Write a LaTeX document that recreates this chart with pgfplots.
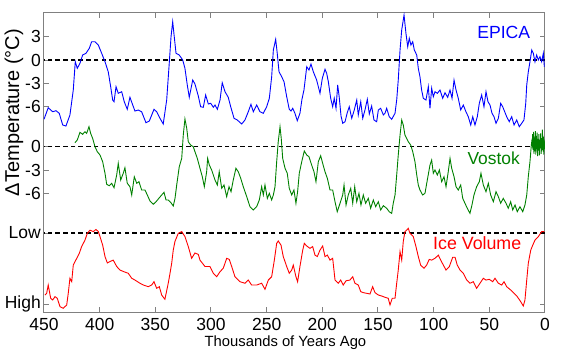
\documentclass[border=0pt]{standalone}
\usepackage{pgfplots}
\pgfplotsset{compat=1.18}
\usepackage{pgfplotstable}
\usepackage{fontspec}
\setmainfont{Liberation Sans}

\definecolor{epica}{RGB}{0,0,255}
\definecolor{vostok}{RGB}{0,128,0}
\definecolor{icev}{RGB}{255,0,0}
\definecolor{axgray}{RGB}{128,128,128}

% EPICA: age (kyr), temperature anomaly (C)
\pgfplotstableread{
x y
450.0 -7.59
446.2 -6.11
442.2 -6.62
439.2 -6.49
436.3 -6.82
433.2 -8.32
430.3 -8.45
426.7 -7.04
423.7 -3.84
421.9 -0.22
420.1 -1.06
417.7 -0.42
415.3 0.64
412.3 0.86
409.3 1.50
407.2 2.34
404.2 2.34
401.2 1.92
398.2 0.86
395.2 -0.22
392.3 -1.50
390.1 -3.42
388.3 -5.12
387.1 -5.34
385.3 -3.42
383.3 -4.26
380.2 -4.06
377.9 -5.34
375.2 -6.31
372.8 -4.77
370.3 -5.76
368.3 -6.53
365.3 -6.40
362.3 -6.62
358.4 -8.03
355.4 -7.81
351.2 -6.31
348.8 -6.62
345.8 -7.46
342.9 -8.19
339.8 -5.12
337.5 -0.42
335.9 2.98
334.4 4.90
333.0 2.98
331.4 0.86
328.5 0.64
325.4 0.00
323.4 -1.06
321.3 -3.20
319.5 -4.77
316.4 -2.56
314.4 -3.07
311.4 -4.61
309.3 -5.98
306.9 -6.05
304.8 -4.48
302.4 -5.63
300.3 -5.54
297.9 -6.05
296.4 -5.76
294.3 -6.31
291.9 -5.12
289.9 -2.91
287.4 -4.06
284.5 -4.77
282.3 -5.98
279.3 -7.46
276.4 -7.68
272.4 -8.19
269.5 -7.68
266.5 -6.62
264.1 -5.67
262.0 -6.62
259.0 -5.76
256.0 -6.62
253.0 -6.82
250.0 -5.98
247.6 -4.90
245.5 -2.14
244.0 1.28
241.9 2.65
240.5 0.86
238.9 -1.50
236.5 -2.14
234.4 -2.78
232.0 -4.70
229.7 -6.31
228.1 -6.53
226.6 -6.18
224.6 -6.82
222.5 -7.77
220.1 -6.82
218.3 -5.03
216.5 -3.84
214.0 -0.86
212.0 -1.28
210.2 -0.51
208.1 -1.50
205.1 -2.56
202.1 -4.26
200.0 -2.34
197.6 -1.19
196.1 -1.70
194.6 -2.78
192.5 -4.90
190.7 -5.98
189.3 -4.90
187.7 -6.18
186.2 -3.20
184.8 -4.77
183.2 -7.17
181.7 -8.10
179.6 -7.90
177.6 -6.75
175.8 -5.98
173.6 -7.46
171.3 -6.40
169.1 -5.12
167.7 -7.04
165.5 -5.34
163.7 -7.46
161.7 -6.40
159.6 -5.03
157.8 -6.91
155.7 -5.89
153.6 -7.68
151.2 -7.90
149.7 -6.40
147.6 -6.18
145.2 -7.04
143.7 -6.82
142.2 -6.18
139.9 -7.26
137.7 -7.59
134.7 -6.82
133.2 -5.12
131.8 -2.56
130.2 1.28
128.7 3.84
126.6 5.76
124.9 3.42
123.3 1.70
121.9 2.78
120.4 1.92
118.8 2.34
117.4 1.28
115.2 0.64
113.8 -1.06
112.3 -2.14
110.8 -3.84
109.3 -4.90
106.9 -5.12
104.8 -3.42
103.3 -6.18
101.8 -3.62
100.3 -4.70
98.8 -4.06
96.7 -4.26
94.3 -3.84
91.9 -4.90
89.8 -4.19
87.4 -4.77
85.3 -3.84
83.5 -4.90
81.7 -2.56
79.9 -3.84
77.9 -4.90
75.7 -6.40
73.4 -5.76
71.0 -6.62
68.9 -7.26
66.7 -8.32
64.9 -7.26
62.9 -8.32
60.8 -7.26
59.0 -5.54
56.9 -4.48
54.8 -5.98
53.0 -4.06
51.2 -5.34
49.4 -5.76
47.6 -6.82
45.8 -7.26
44.0 -8.10
41.9 -7.46
39.8 -5.54
38.0 -5.98
36.2 -6.62
34.4 -7.26
32.1 -7.90
29.9 -7.26
27.8 -8.32
25.4 -7.68
23.1 -8.54
20.9 -8.10
18.9 -7.68
17.3 -5.54
16.4 -3.20
15.0 -1.50
13.5 -0.22
11.9 1.28
10.5 0.86
9.0 -0.22
7.5 0.64
6.0 0.00
4.5 0.42
3.0 -0.22
1.5 0.86
0.6 -0.86
}\epica

% Vostok: age (kyr), temperature anomaly (C)
\pgfplotstableread{
x y
422.2 0.51
420.1 0.86
417.7 1.84
415.3 1.59
413.2 1.92
411.7 1.71
409.6 2.56
408.1 1.71
406.3 1.07
404.2 0.00
402.1 -0.64
399.7 -1.06
397.3 -1.92
395.2 -3.40
393.7 -4.81
391.4 -4.99
389.2 -4.68
387.1 -5.25
384.7 -3.62
383.3 -2.12
381.1 -4.26
378.8 -3.40
377.3 -2.69
375.2 -4.68
372.8 -5.12
371.2 -6.18
368.9 -3.84
366.7 -4.68
364.7 -4.48
362.3 -5.54
359.3 -5.54
357.2 -6.18
354.8 -6.95
351.8 -7.37
348.8 -6.95
346.4 -6.53
344.3 -6.18
342.2 -5.84
340.4 -6.82
338.4 -6.82
336.2 -7.12
333.9 -7.59
332.3 -6.61
330.8 -4.90
328.5 -2.56
326.3 -1.49
324.9 1.50
323.4 3.55
321.8 2.36
320.4 0.64
318.3 0.22
315.9 0.00
314.4 -0.64
312.3 -1.49
309.9 -2.76
307.8 -3.84
306.0 -5.12
303.9 -3.20
303.0 -1.49
301.5 -2.34
299.4 -2.98
296.4 -4.26
294.3 -4.90
292.6 -3.20
290.4 -5.32
288.3 -4.90
285.9 -6.40
283.8 -5.12
282.0 -5.76
280.0 -4.26
277.6 -2.76
275.5 -3.20
273.3 -4.04
271.0 -5.12
267.9 -6.40
265.0 -7.68
262.0 -8.10
259.0 -7.68
256.6 -6.82
254.5 -5.12
253.0 -6.18
251.5 -4.90
249.4 -6.61
247.6 -5.97
245.5 -6.82
244.0 -6.18
242.5 -5.12
241.0 -1.92
239.6 0.64
238.0 2.56
236.9 1.07
235.6 -1.49
233.5 -2.76
231.5 -3.40
229.7 -5.32
227.5 -6.18
225.5 -5.54
223.7 -7.24
222.2 -5.76
220.7 -3.40
218.5 -1.92
216.2 -0.55
214.0 -1.06
212.0 -1.28
209.6 -2.34
207.5 -3.20
205.7 -4.48
203.6 -1.92
201.5 -1.15
199.7 -2.12
197.6 -3.20
195.5 -4.04
193.1 -5.54
190.7 -5.54
188.6 -7.04
186.6 -8.32
184.1 -7.24
181.7 -6.18
180.5 -4.90
178.7 -7.46
176.7 -6.18
174.5 -5.32
172.7 -7.24
170.9 -5.12
169.1 -7.04
167.1 -5.97
165.3 -7.46
163.2 -6.18
161.1 -7.24
158.7 -6.61
156.6 -7.88
154.2 -6.82
152.1 -7.68
149.7 -7.04
147.6 -8.10
145.2 -7.55
142.2 -7.88
139.9 -8.32
137.7 -8.53
136.3 -7.24
134.7 -6.18
133.2 -3.62
131.8 -1.06
130.2 1.50
128.7 3.42
127.3 2.78
125.8 1.50
124.3 1.07
122.8 0.64
120.6 0.22
118.8 -0.64
116.8 -1.92
115.2 -3.62
113.8 -4.90
112.3 -5.54
109.9 -6.18
107.8 -5.97
105.7 -4.26
103.3 -2.34
101.8 -1.70
100.3 -3.40
98.8 -2.98
96.7 -3.62
94.9 -2.98
92.8 -4.48
90.7 -3.84
88.9 -5.12
86.9 -3.20
85.3 -1.49
83.8 -2.76
81.7 -3.84
79.9 -5.12
77.9 -5.54
75.7 -4.90
73.9 -6.61
71.9 -7.24
69.8 -7.88
67.4 -8.53
65.6 -7.46
63.8 -6.18
61.4 -5.12
59.0 -4.48
57.5 -3.40
55.4 -4.90
53.0 -5.76
50.9 -4.68
48.8 -6.18
46.4 -7.04
44.0 -5.76
41.9 -6.40
39.8 -7.24
37.5 -6.61
35.0 -7.24
33.0 -7.88
30.8 -7.04
29.0 -8.10
26.9 -7.46
24.9 -8.32
22.5 -7.68
20.0 -8.32
18.0 -7.46
16.4 -6.18
15.0 -3.84
13.5 -1.92
12.3 0.20
11.9 0.64
11.5 0.30
11.1 1.60
10.7 -0.40
10.3 1.90
9.9 -0.90
9.5 1.20
9.1 -0.60
8.7 2.00
8.3 -1.00
7.9 1.40
7.5 -0.30
7.1 1.80
6.7 -1.20
6.3 1.00
5.9 -0.50
5.5 1.60
5.1 -1.10
4.7 0.90
4.3 -0.20
3.9 1.70
3.5 -0.90
3.1 1.10
2.7 -0.60
2.3 2.20
1.9 -0.40
1.5 1.30
1.1 -1.00
0.7 0.90
0.3 -0.30
}\vostok

% Ice volume: age (kyr), relative volume (0 = High, 1 = Low)
\pgfplotstableread{
x v
449.1 0.13
447.6 0.154
446.2 0.27
444.0 0.084
442.2 0.06
440.1 0.107
438.1 0.084
435.6 -0.034
432.7 -0.056
429.6 -0.01
428.2 0.154
426.7 0.365
425.1 0.317
423.7 0.55
420.6 0.645
418.3 0.715
416.2 0.81
413.2 0.90
411.1 0.996
408.7 1.04
405.7 1.02
403.3 1.05
401.2 1.02
399.7 0.95
397.3 0.83
395.2 0.67
393.1 0.58
390.7 0.60
387.8 0.62
384.7 0.53
381.7 0.48
378.2 0.457
374.3 0.435
371.2 0.365
368.3 0.34
363.8 0.295
360.8 0.27
356.3 0.247
353.3 0.27
351.2 0.317
348.8 0.224
346.4 0.247
344.3 0.13
341.4 0.07
338.4 0.295
336.8 0.435
335.3 0.575
333.9 0.76
332.4 0.88
329.4 0.996
326.3 1.02
323.4 0.95
320.4 0.81
317.4 0.645
314.4 0.72
311.4 0.70
309.9 0.62
305.4 0.53
300.9 0.53
297.9 0.435
294.9 0.387
291.9 0.457
289.0 0.505
285.9 0.645
283.6 0.63
281.4 0.53
278.5 0.387
274.0 0.317
269.5 0.295
266.5 0.34
263.5 0.27
259.0 0.27
254.5 0.295
251.5 0.21
248.5 0.34
245.5 0.387
243.1 0.62
241.0 0.855
239.6 0.888
237.1 0.83
235.1 0.67
232.0 0.53
229.7 0.435
227.5 0.48
226.1 0.55
223.7 0.387
222.2 0.317
220.1 0.53
217.6 0.76
216.2 0.855
214.0 0.818
211.1 0.785
208.7 0.81
206.6 0.69
204.5 0.67
202.1 0.76
199.7 0.818
197.6 0.67
195.5 0.69
193.1 0.62
190.7 0.645
188.6 0.34
185.7 0.295
183.5 0.34
181.2 0.27
178.7 0.33
175.2 0.34
172.7 0.387
170.7 0.295
167.7 0.27
165.5 0.177
163.2 0.163
160.2 0.154
157.2 0.144
154.8 0.247
152.7 0.163
149.7 0.13
146.7 0.116
143.7 0.098
140.8 0.084
139.2 -0.01
137.2 0.084
134.7 0.084
133.2 0.295
131.8 0.48
130.2 0.74
128.7 0.62
127.3 0.88
125.8 1.02
124.3 1.04
122.8 1.066
121.3 0.996
118.3 0.95
115.9 0.81
113.8 0.67
111.7 0.55
108.7 0.505
106.3 0.55
104.0 0.63
101.8 0.62
98.8 0.645
95.8 0.69
93.7 0.62
91.3 0.55
88.9 0.48
85.9 0.53
82.9 0.66
80.8 0.66
78.8 0.55
76.3 0.48
73.4 0.435
70.3 0.34
67.4 0.295
64.4 0.317
61.4 0.224
58.4 0.295
55.4 0.365
53.0 0.34
50.0 0.35
47.0 0.317
44.9 0.365
41.9 0.295
38.9 0.27
36.8 0.317
34.4 0.247
30.8 0.20
27.8 0.154
24.9 0.107
21.8 0.036
19.5 -0.024
18.0 0.06
16.4 0.34
15.0 0.575
12.8 0.76
11.0 0.83
9.0 0.90
6.0 0.95
3.0 1.02
0.6 1.02
}\icevol

\begin{document}
\begin{tikzpicture}
\begin{axis}[
  at={(0pt,0pt)}, anchor=south west,
  width=501pt, height=299pt, scale only axis,
  x dir=reverse,
  xmin=0, xmax=450, ymin=-32.26, ymax=6.02,
  xtick={0,50,...,450},
  ytick={-31.27,-22.15,-17.1,-14.1,-11.1,-6,-3,0,3},
  yticklabels={High,Low,-6,-3,0,-6,-3,0,3},
  tick align=inside,
  major tick length=5pt,
  tick style={axgray, line width=1pt},
  axis line style={axgray, line width=1pt},
  ticklabel style={font=\fontsize{17.5}{18}\selectfont, black},
  yticklabel style={inner xsep=3pt},
  xticklabel style={yshift=-2.5pt},
  /pgf/number format/assume math mode=true,
  xlabel={Thousands of Years Ago},
  xlabel style={font=\fontsize{14.8}{16}\selectfont, at={(axis description cs:0.482,0)}, anchor=center, yshift=-31pt},
  ylabel={ΔTemperature (°C)},
  ylabel style={font=\fontsize{20}{22}\selectfont, at={(axis description cs:-0.06,0.667)}, anchor=center},
  clip=true,
]
\addplot[black, line width=1.3pt, dash pattern=on 4.5pt off 3.2pt] coordinates {(0,0) (450,0)};
\addplot[black, line width=1.3pt, dash pattern=on 4.5pt off 3.2pt] coordinates {(0,-11.1) (450,-11.1)};
\addplot[black, line width=1.3pt, dash pattern=on 4.5pt off 3.2pt] coordinates {(0,-22.15) (450,-22.15)};

\addplot[epica, line width=0.9pt] table[x=x, y=y] {\epica};
\addplot[vostok, line width=0.9pt] table[x=x, y expr=\thisrow{y}-11.1] {\vostok};
\addplot[icev, line width=0.9pt] table[x=x, y expr=-31.27+9.12*\thisrow{v}] {\icevol};

\node[epica, font=\fontsize{17.6}{18}\selectfont] at (axis cs:37.1,3.49) {EPICA};
\node[vostok, font=\fontsize{17.4}{18}\selectfont] at (axis cs:46.1,-12.58) {Vostok};
\node[icev, font=\fontsize{17.8}{18}\selectfont] at (axis cs:60.9,-23.46) {Ice Volume};
\end{axis}
\pgfresetboundingbox
\path[use as bounding box] (-44pt,-49pt) rectangle (520pt,312pt);
\end{tikzpicture}
\end{document}
